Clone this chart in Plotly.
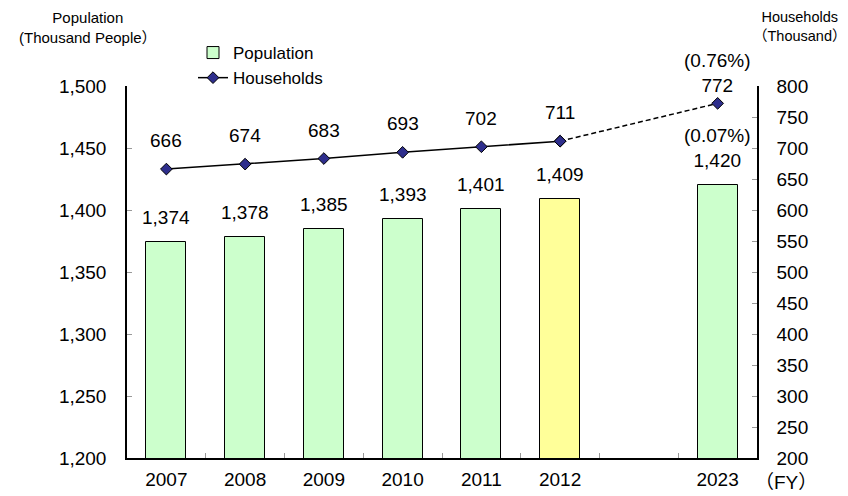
import plotly.graph_objects as go

# ---- data ----
years = ["2007", "2008", "2009", "2010", "2011", "2012", "2023"]
slots = [0, 1, 2, 3, 4, 5, 7]          # category slot on the x axis (slot 6 left empty)
population = [1374, 1378, 1385, 1393, 1401, 1409, 1420]
households = [666, 674, 683, 693, 702, 711, 772]
pop_growth = "(0.07%)"
hh_growth = "(0.76%)"
y_ticks_left = [1200, 1250, 1300, 1350, 1400, 1450, 1500]
y_ticks_right = [200, 250, 300, 350, 400, 450, 500, 550, 600, 650, 700, 750, 800]

W, H = 848, 496
L, R, T, B = 127, 91, 86, 38
FONT = "Liberation Sans, Arial, Noto Sans CJK JP, sans-serif"
FS = 19

def px_x(px):
    return (px - L) / (W - L - R)

def px_y(py):
    return (H - B - py) / (H - T - B)

bar_colors = ["#CCFFCC"] * len(years)
bar_colors[years.index("2012")] = "#FFFF99"

fig = go.Figure()
fig.add_trace(go.Bar(
    x=slots, y=population, name="Population",
    marker=dict(color=bar_colors, line=dict(color="black", width=1)),
    width=0.51, yaxis="y",
))
# solid part of the household line (actual years)
fig.add_trace(go.Scatter(
    x=slots[:-1], y=households[:-1], name="Households", mode="lines+markers",
    line=dict(color="black", width=1.5),
    marker=dict(symbol="diamond", size=9, color="#2E2E8C", line=dict(color="black", width=1)),
    yaxis="y2",
))
# dashed projection to 2023
fig.add_trace(go.Scatter(
    x=slots[-2:], y=households[-2:], mode="lines+markers", showlegend=False,
    line=dict(color="black", width=1.5, dash="5px,3px"),
    marker=dict(symbol="diamond", size=9, color="#2E2E8C", line=dict(color="black", width=1)),
    yaxis="y2",
))

annotations = []
for i, (s, p, h) in enumerate(zip(slots, population, households)):
    last = i == len(slots) - 1
    ptxt = f"{p:,}"
    htxt = f"{h:,}"
    if last:
        ptxt = pop_growth + "<br>" + ptxt
        htxt = hh_growth + "<br>" + htxt
    annotations.append(dict(x=s, y=p, xref="x", yref="y", text=ptxt, showarrow=False,
                            yanchor="bottom", yshift=12, font=dict(size=FS, color="black")))
    annotations.append(dict(x=s, y=h, xref="x", yref="y2", text=htxt, showarrow=False,
                            yanchor="bottom", yshift=5 if last else 16,
                            font=dict(size=FS, color="black")))

annotations += [
    dict(x=px_x(88), y=px_y(28), xref="paper", yref="paper", showarrow=False,
         text="Population<br>(Thousand People）", font=dict(size=15), xanchor="center", yanchor="middle"),
    dict(x=px_x(800), y=px_y(27), xref="paper", yref="paper", showarrow=False,
         text="Households<br>（Thousand）", font=dict(size=14.5), xanchor="center", yanchor="middle"),
    dict(x=px_x(786), y=px_y(482), xref="paper", yref="paper", showarrow=False,
         text="（FY）", font=dict(size=FS), xanchor="center", yanchor="middle"),
]

fig.update_layout(
    width=W, height=H,
    margin=dict(l=L, r=R, t=T, b=B, pad=0, autoexpand=False),
    paper_bgcolor="white", plot_bgcolor="white",
    font=dict(family=FONT, size=FS, color="black"),
    showlegend=True,
    legend=dict(x=px_x(193), y=px_y(35), xanchor="left", yanchor="top",
                font=dict(size=17), bgcolor="rgba(0,0,0,0)", tracegroupgap=0),
    bargap=0,
    xaxis=dict(
        range=[-0.5, 7.5], tickvals=slots, ticktext=years, ticks="", automargin=False,
        showline=True, linecolor="black", linewidth=1.5, showgrid=False, zeroline=False,
        minor=dict(tickvals=[k + 0.5 for k in range(7)], ticks="inside", ticklen=5,
                   tickcolor="#999999", tickwidth=1, showgrid=False),
        tickfont=dict(size=FS), ticklabelstandoff=3,
    ),
    yaxis=dict(
        range=[1200, 1500], tickvals=y_ticks_left, tickformat=",", automargin=False,
        showline=True, linecolor="black", linewidth=1.5, showgrid=False, zeroline=False,
        ticks="inside", ticklen=5, tickcolor="#999999", ticklabelstandoff=15,
        tickfont=dict(size=FS),
    ),
    yaxis2=dict(
        range=[200, 800], tickvals=y_ticks_right, overlaying="y", side="right", automargin=False,
        showline=True, linecolor="black", linewidth=1.5, showgrid=False, zeroline=False,
        ticks="inside", ticklen=5, tickcolor="#999999", ticklabelstandoff=14,
        tickfont=dict(size=FS),
    ),
    annotations=annotations,
)

fig.write_html("out.html")
